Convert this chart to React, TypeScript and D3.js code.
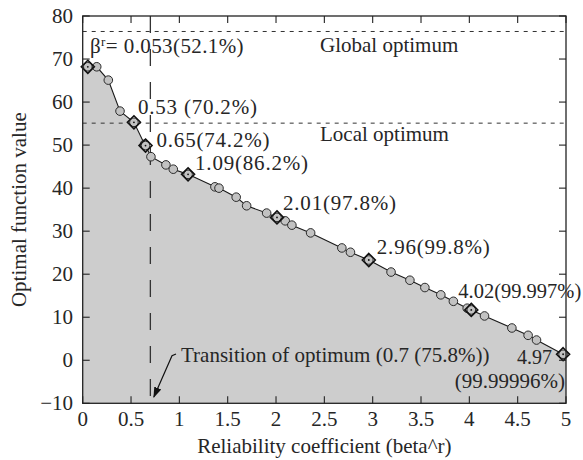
import React from "react";
import * as d3 from "d3";

// Optimal function value versus reliability coefficient
const betaR = [
  0.053, 0.145, 0.265, 0.386, 0.53, 0.64, 0.65, 0.706, 0.861, 0.937, 1.09, 1.368, 1.41,
  1.588, 1.696, 1.903, 2.01, 2.095, 2.164, 2.358, 2.681, 2.77, 2.96, 3.19, 3.385, 3.54,
  3.705, 3.835, 3.978, 4.02, 4.157, 4.44, 4.608, 4.695, 4.97,
];
const optValue = [
  68.2, 68.2, 65.1, 57.9, 55.3, 50.2, 49.9, 47.3, 45.4, 44.4, 43.2, 40.3, 40.0,
  37.9, 35.9, 34.2, 33.2, 32.4, 31.4, 29.6, 26.1, 25.1, 23.3, 20.5, 18.6, 16.9,
  15.2, 13.7, 12.1, 11.7, 10.3, 7.5, 5.8, 4.7, 1.4,
];

// Marked solutions with their reliability levels
const markedBeta = [0.053, 0.53, 0.65, 1.09, 2.01, 2.96, 4.02, 4.97];
const markedValue = [68.2, 55.3, 49.9, 43.2, 33.2, 23.3, 11.7, 1.4];
const markedText = [
  "0.053(52.1%)",
  "0.53 (70.2%)",
  "0.65(74.2%)",
  "1.09(86.2%)",
  "2.01(97.8%)",
  "2.96(99.8%)",
  "4.02(99.997%)",
  "4.97",
];
const lastLevel = "(99.99996%)";

const globalOptimum = 76.4;
const localOptimum = 55.1;
const transitionBeta = 0.7;

const xTicks = [0, 0.5, 1, 1.5, 2, 2.5, 3, 3.5, 4, 4.5, 5];
const xTickLabels = ["0", "0.5", "1", "1.5", "2", "2.5", "3", "3.5", "4", "4.5", "5"];
const yTicks = [-10, 0, 10, 20, 30, 40, 50, 60, 70, 80];
const yTickLabels = ["\u221210", "0", "10", "20", "30", "40", "50", "60", "70", "80"];

const W = 583;
const H = 460;
const left = 82.7;
const right = 566;
const top = 16;
const bottom = 403.3;

const FONT = "Liberation Serif";
const FS = 21;
const INK = "#262626";

export default function App() {
  const x = d3.scaleLinear().domain([0, 5]).range([left, right]);
  const y = d3.scaleLinear().domain([-10, 80]).range([bottom, top]);

  const pts = betaR.map((b, i) => ({ b, v: optValue[i] }));
  const areaPts = [{ b: 0, v: optValue[0] }, ...pts, { b: 5, v: optValue[optValue.length - 1] }];

  const area = d3
    .area<{ b: number; v: number }>()
    .x((d) => x(d.b))
    .y0(y(-10))
    .y1((d) => y(d.v));
  const line = d3
    .line<{ b: number; v: number }>()
    .x((d) => x(d.b))
    .y((d) => y(d.v));

  // label anchors, offsets from each marked point
  const labelPos: { dx: number; dy: number; anchor: string; size: number; ls: number }[] = [
    { dx: 0, dy: 0, anchor: "start", size: 21, ls: 0.4 },
    { dx: 4, dy: -8, anchor: "start", size: 21, ls: 0.8 },
    { dx: 11, dy: 1, anchor: "start", size: 21, ls: 0.8 },
    { dx: 7, dy: -4, anchor: "start", size: 21, ls: 0.8 },
    { dx: 6, dy: -7, anchor: "start", size: 21, ls: 0.8 },
    { dx: 8, dy: -6, anchor: "start", size: 21, ls: 0.8 },
    { dx: -13, dy: -12, anchor: "start", size: 20.5, ls: 0 },
    { dx: -11, dy: 9.5, anchor: "end", size: 20, ls: 0 },
  ];

  const tx = x(transitionBeta);
  const textStyle = { fontFamily: FONT, fontSize: FS, fill: INK } as React.CSSProperties;

  return (
    <svg
      width={W}
      height={H}
      style={{ position: "absolute", left: 0, top: 0, background: "#fff", fontFamily: FONT }}
    >
      <defs>
        <marker id="arrowHead" viewBox="0 0 10 10" refX="9" refY="5" markerWidth="9" markerHeight="9" orient="auto">
          <path d="M0,1.5 L10,5 L0,8.5 Z" fill="#111" />
        </marker>
      </defs>

      <path d={area(areaPts) || ""} fill="#cdcdcd" />

      {/* reference levels */}
      <line x1={left} x2={right} y1={y(globalOptimum)} y2={y(globalOptimum)} stroke="#333" strokeWidth={1} strokeDasharray="4,5" />
      <line x1={left} x2={right} y1={y(localOptimum)} y2={y(localOptimum)} stroke="#333" strokeWidth={1} strokeDasharray="4,5" />
      <line x1={tx} x2={tx} y1={top} y2={bottom} stroke="#333" strokeWidth={1.3} strokeDasharray="17,16" />

      <path d={line(pts) || ""} fill="none" stroke="#1a1a1a" strokeWidth={1.1} />

      {pts.map((d, i) => (
        <circle key={i} cx={x(d.b)} cy={y(d.v)} r={4.3} fill="#c2c2c2" stroke="#2a2a2a" strokeWidth={1} />
      ))}

      {markedBeta.map((b, i) => {
        const cx = x(b);
        const cy = y(markedValue[i]);
        const s = 6.5;
        return (
          <g key={i}>
            <path
              d={`M${cx},${cy - s} L${cx + s},${cy} L${cx},${cy + s} L${cx - s},${cy} Z`}
              fill="none"
              stroke="#111"
              strokeWidth={1.6}
            />
            <circle cx={cx} cy={cy} r={0.9} fill="#111" />
          </g>
        );
      })}

      {/* frame and ticks */}
      <rect x={left} y={top} width={right - left} height={bottom - top} fill="none" stroke="#222" strokeWidth={1.3} />
      {xTicks.map((t, i) => (
        <g key={"xt" + i}>
          <line x1={x(t)} x2={x(t)} y1={bottom} y2={bottom - 7} stroke="#222" strokeWidth={1.1} />
          <line x1={x(t)} x2={x(t)} y1={top} y2={top + 7} stroke="#222" strokeWidth={1.1} />
          <text x={x(t)} y={426} textAnchor="middle" style={textStyle}>
            {xTickLabels[i]}
          </text>
        </g>
      ))}
      {yTicks.map((t, i) => (
        <g key={"yt" + i}>
          <line x1={left} x2={left + 7} y1={y(t)} y2={y(t)} stroke="#222" strokeWidth={1.1} />
          <line x1={right} x2={right - 7} y1={y(t)} y2={y(t)} stroke="#222" strokeWidth={1.1} />
          <text x={73} y={y(t)} dy="0.34em" textAnchor="end" style={textStyle}>
            {yTickLabels[i]}
          </text>
        </g>
      ))}

      {/* axis titles */}
      <text x={(left + right) / 2} y={453} textAnchor="middle" style={textStyle}>
        Reliability coefficient (beta^r)
      </text>
      <text
        transform={`translate(26,${(top + bottom) / 2}) rotate(-90)`}
        textAnchor="middle"
        style={textStyle}
      >
        Optimal function value
      </text>

      {/* level labels */}
      <text x={320} y={51.5} style={textStyle}>Global optimum</text>
      <text x={320} y={141} style={textStyle}>Local optimum</text>

      {/* marked solution labels */}
      {markedBeta.map((b, i) => {
        const p = labelPos[i];
        const st = { ...textStyle, fontSize: p.size, letterSpacing: p.ls } as React.CSSProperties;
        if (i === 0) {
          return (
            <text key={"lb" + i} x={90} y={53.3} style={st}>
              β<tspan dy={-7} style={{ fontSize: 13 }}>r</tspan>
              <tspan dy={7}>= {markedText[i]}</tspan>
            </text>
          );
        }
        if (i === markedBeta.length - 1) {
          // last solution: value and level stacked, right-aligned
          const lx = x(b) + p.dx;
          const ly = y(markedValue[i]) + p.dy;
          return (
            <g key={"lb" + i}>
              <text x={lx} y={ly} textAnchor="end" style={st}>{markedText[i]}</text>
              <text x={565} y={ly + 24} textAnchor="end" style={textStyle}>{lastLevel}</text>
            </g>
          );
        }
        return (
          <text
            key={"lb" + i}
            x={x(b) + p.dx}
            y={y(markedValue[i]) + p.dy}
            textAnchor={p.anchor}
            style={st}
          >
            {markedText[i]}
          </text>
        );
      })}

      {/* transition annotation */}
      <text x={181} y={361.7} style={textStyle}>
        Transition of optimum (0.7 (75.8%))
      </text>
      <polyline
        points={`176,354 172,355.7 ${tx + 3.5},397`}
        fill="none"
        stroke="#111"
        strokeWidth={1.2}
        markerEnd="url(#arrowHead)"
      />
    </svg>
  );
}
